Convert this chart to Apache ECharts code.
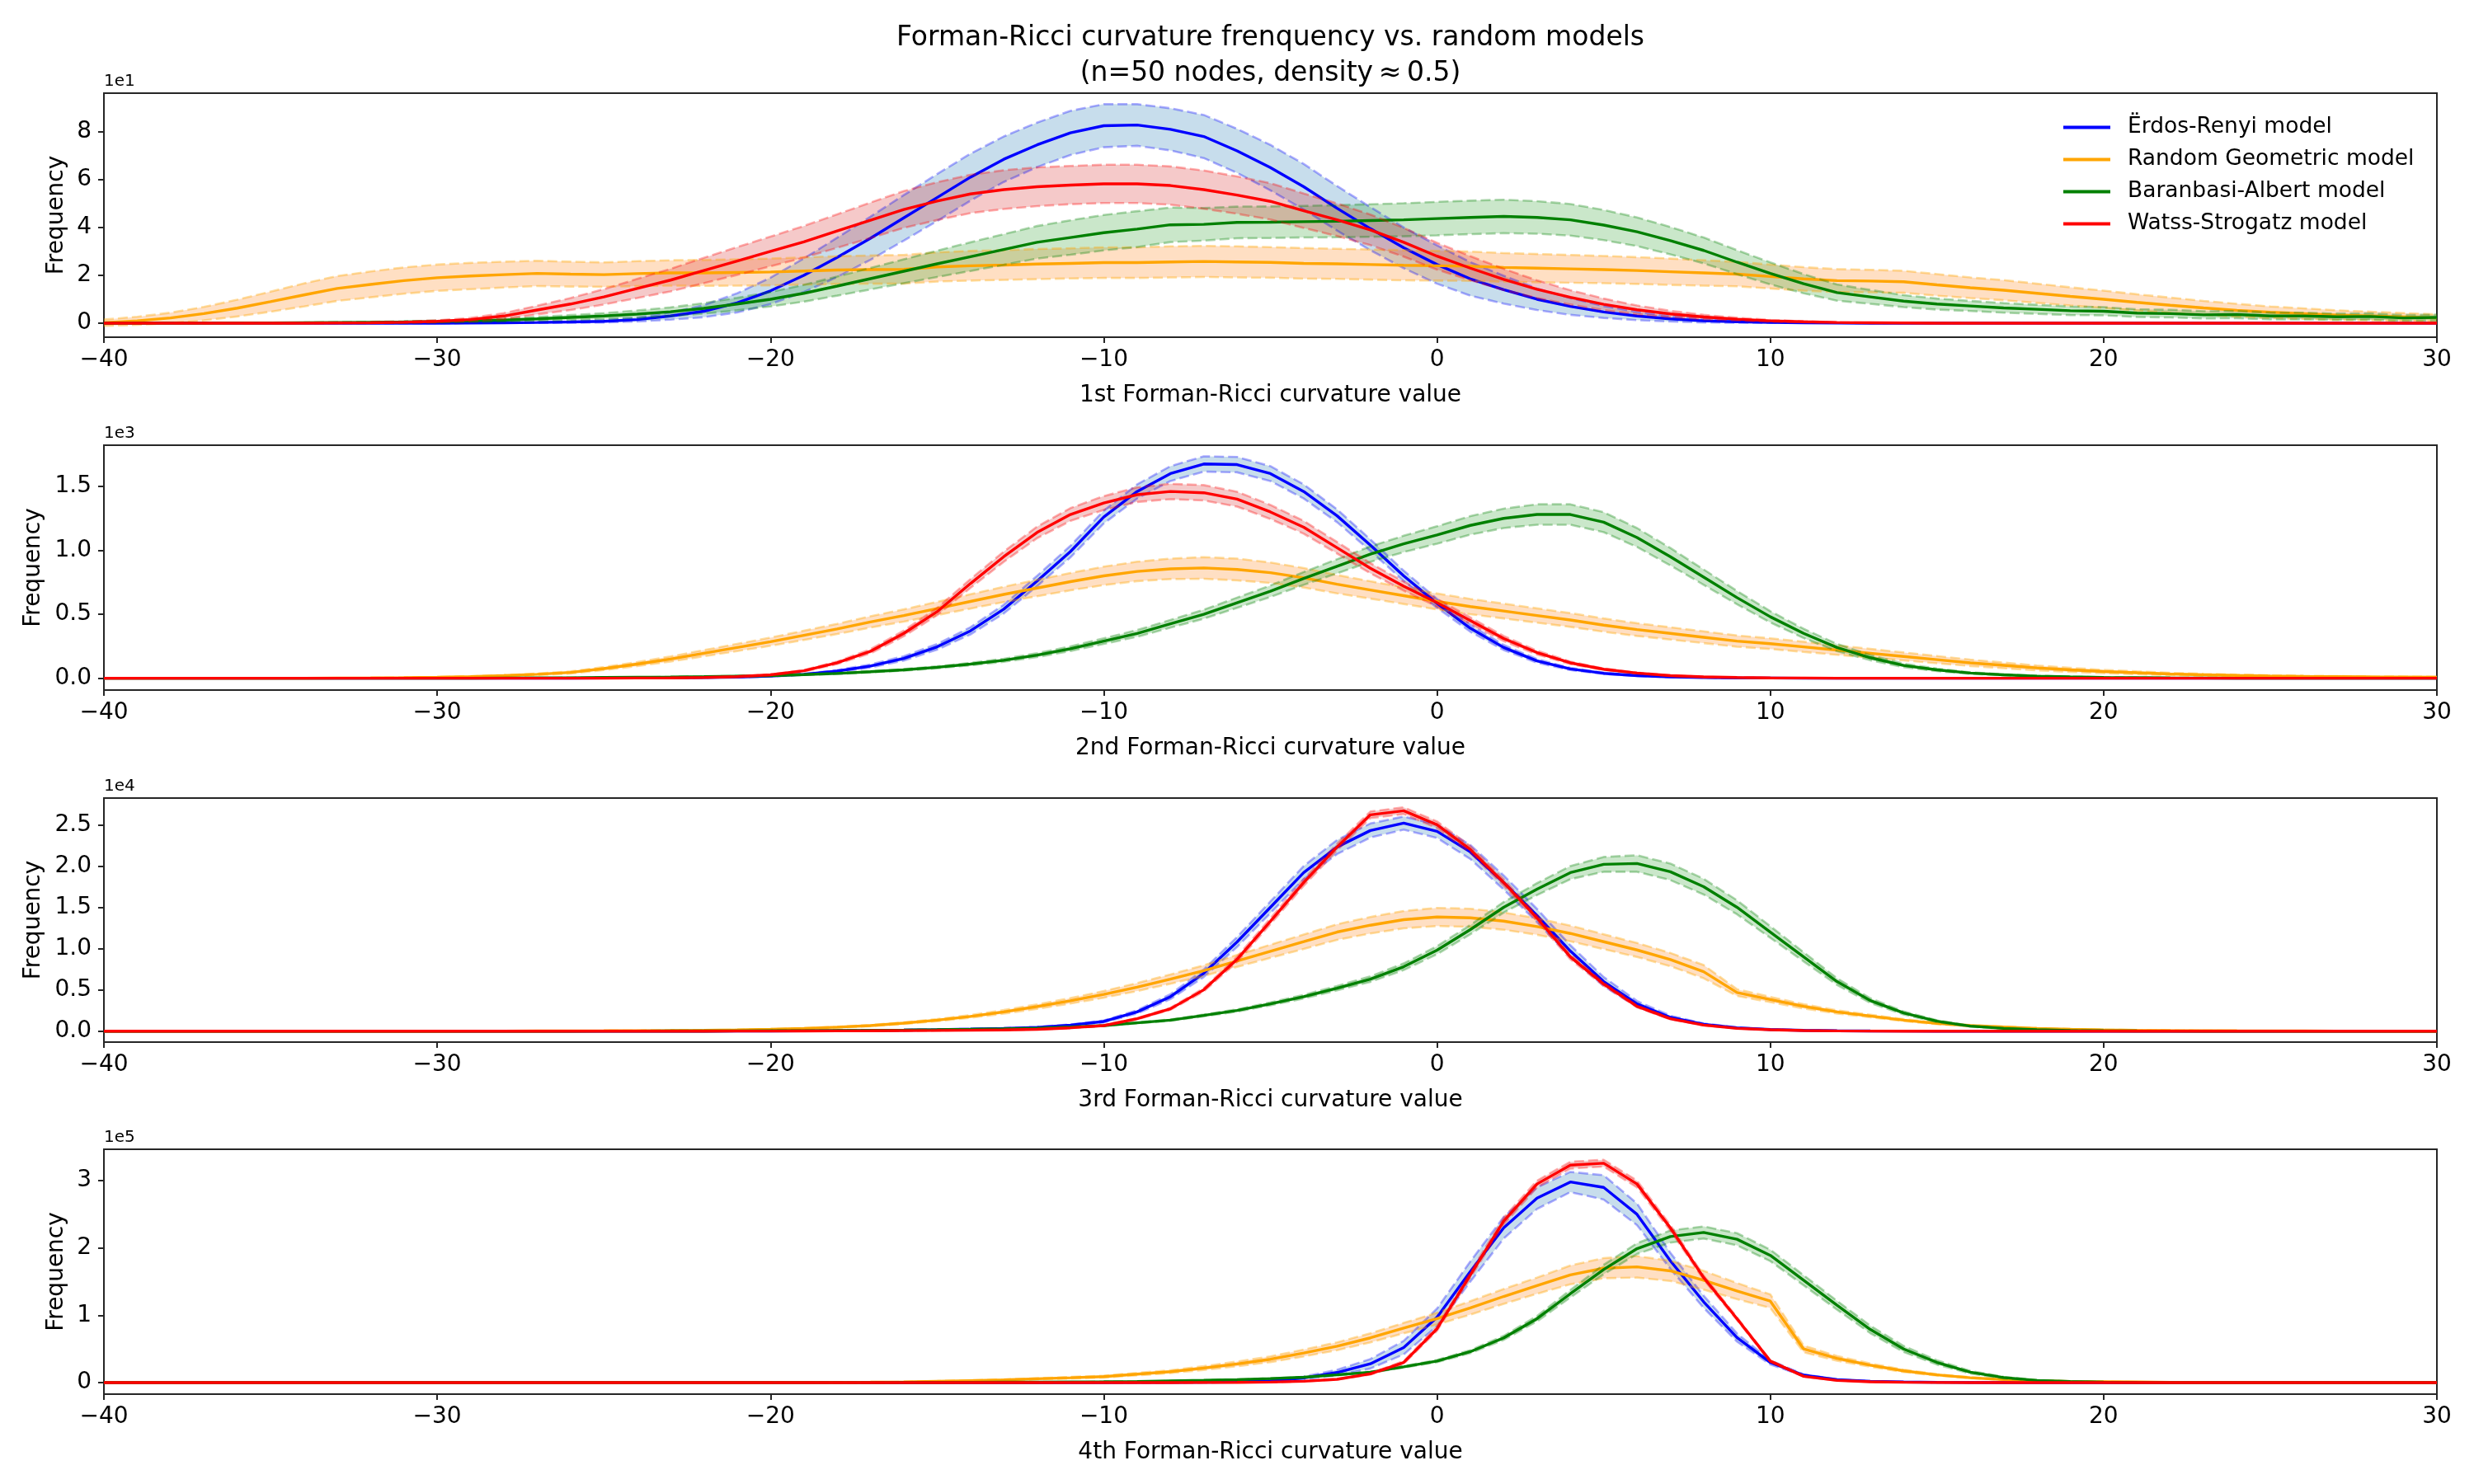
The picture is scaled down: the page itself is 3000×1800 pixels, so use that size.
<!DOCTYPE html>
<html>
<head>
<meta charset="utf-8">
<script src="https://cdn.jsdelivr.net/npm/echarts@6/dist/echarts.min.js"></script>
<style>html,body{margin:0;padding:0;background:#fff}#chart{width:3000px;height:1800px}</style>
</head>
<body>
<div id="chart"></div>
<script>
// ---------------- DATA ----------------
const curvature = [-40,-39,-38,-37,-36,-35,-34,-33,-32,-31,-30,-29,-28,-27,-26,-25,-24,-23,-22,-21,-20,-19,-18,-17,-16,-15,-14,-13,-12,-11,-10,-9,-8,-7,-6,-5,-4,-3,-2,-1,0,1,2,3,4,5,6,7,8,9,10,11,12,13,14,15,16,17,18,19,20,21,22,23,24,25,26,27,28,29,30];
const modelNames = ['Ërdos-Renyi model','Random Geometric model','Baranbasi-Albert model','Watss-Strogatz model'];
const xAxisTitles = ['1st Forman-Ricci curvature value','2nd Forman-Ricci curvature value','3rd Forman-Ricci curvature value','4th Forman-Ricci curvature value'];
const yAxisTitle = 'Frequency';
const offsetLabels = ['1e1','1e3','1e4','1e5'];
const yTicks1 = [0,2,4,6,8];
const yTicks2 = [0,0.5,1.0,1.5];
const yTicks3 = [0,0.5,1.0,1.5,2.0,2.5];
const yTicks4 = [0,1,2,3];
const titleLines = ['Forman-Ricci curvature frenquency vs. random models','(n=50 nodes, density\u2009\u2248\u20090.5)'];

// Panel 1 (values in units of 1e1)
const p1ErMean = [0,0,0,0,0,0,0,0,0,0, 0,0.01,0.02,0.03,0.05,0.08,0.15,0.3,0.5,0.85, 1.35,2.0,2.75,3.55,4.4,5.25,6.1,6.85,7.45,7.95, 8.25,8.28,8.1,7.8,7.2,6.5,5.7,4.8,3.95,3.15, 2.45,1.85,1.4,1.0,0.7,0.47,0.3,0.18,0.1,0.06, 0.03,0.02,0.01,0,0,0,0,0,0,0, 0,0,0,0,0,0,0,0,0,0, 0];
const p1ErStd  = [0,0,0,0,0,0,0,0,0,0, 0,0,0,0.02,0.03,0.05,0.08,0.15,0.25,0.4, 0.55,0.7,0.82,0.9,0.95,0.98,0.98,0.95,0.93,0.92, 0.9,0.87,0.88,0.9,0.92,0.95,0.95,0.93,0.9,0.85, 0.8,0.7,0.58,0.45,0.35,0.25,0.17,0.11,0.07,0.04, 0.02,0.01,0,0,0,0,0,0,0,0, 0,0,0,0,0,0,0,0,0,0, 0];
const p1RgMean = [0.02,0.1,0.22,0.4,0.63,0.9,1.18,1.45,1.62,1.78, 1.9,1.97,2.03,2.08,2.05,2.03,2.07,2.1,2.1,2.12, 2.14,2.18,2.22,2.24,2.25,2.35,2.4,2.43,2.47,2.5, 2.53,2.53,2.56,2.58,2.56,2.54,2.5,2.48,2.45,2.42, 2.4,2.38,2.33,2.3,2.27,2.24,2.2,2.15,2.1,2.05, 1.95,1.85,1.78,1.76,1.73,1.6,1.48,1.38,1.25,1.12, 1.0,0.87,0.75,0.64,0.54,0.46,0.4,0.34,0.3,0.26, 0.22];
const p1RgStd  = [0.13,0.17,0.22,0.28,0.35,0.42,0.48,0.52,0.54,0.55, 0.55,0.55,0.54,0.53,0.52,0.51,0.52,0.53,0.54,0.55, 0.56,0.57,0.58,0.59,0.6,0.61,0.62,0.62,0.63,0.63, 0.64,0.64,0.65,0.65,0.65,0.64,0.64,0.63,0.63,0.63, 0.62,0.61,0.6,0.59,0.58,0.57,0.56,0.55,0.53,0.51, 0.5,0.49,0.48,0.47,0.46,0.45,0.43,0.42,0.4,0.38, 0.36,0.34,0.32,0.29,0.27,0.24,0.22,0.2,0.18,0.16, 0.15];
const p1BaMean = [0,0,0,0,0.01,0.01,0.02,0.03,0.04,0.05, 0.07,0.1,0.13,0.18,0.24,0.3,0.38,0.48,0.62,0.8, 1.0,1.25,1.55,1.86,2.17,2.48,2.78,3.08,3.38,3.58, 3.78,3.93,4.11,4.13,4.21,4.22,4.24,4.26,4.29,4.32, 4.37,4.42,4.46,4.42,4.32,4.1,3.82,3.45,3.04,2.55, 2.08,1.65,1.28,1.1,0.92,0.8,0.72,0.64,0.58,0.52, 0.5,0.42,0.4,0.35,0.36,0.3,0.3,0.27,0.28,0.22, 0.24];
const p1BaStd  = [0,0,0,0,0,0.01,0.01,0.02,0.02,0.03, 0.04,0.05,0.06,0.08,0.1,0.12,0.15,0.18,0.22,0.26, 0.3,0.35,0.4,0.45,0.5,0.55,0.6,0.64,0.68,0.72, 0.74,0.75,0.72,0.68,0.66,0.66,0.66,0.67,0.68,0.69, 0.7,0.7,0.7,0.68,0.66,0.63,0.6,0.57,0.54,0.5, 0.46,0.4,0.34,0.29,0.25,0.23,0.21,0.2,0.19,0.18, 0.17,0.16,0.16,0.15,0.15,0.14,0.14,0.13,0.13,0.12, 0.12];
const p1WsMean = [0,0,0,0,0,0,0,0.01,0.02,0.04, 0.08,0.15,0.3,0.55,0.8,1.1,1.45,1.8,2.2,2.6, 3.0,3.4,3.85,4.3,4.75,5.1,5.4,5.58,5.7,5.77, 5.82,5.82,5.75,5.58,5.35,5.09,4.7,4.32,3.9,3.38, 2.8,2.3,1.83,1.42,1.08,0.79,0.56,0.39,0.26,0.17, 0.1,0.06,0.03,0.02,0.01,0,0,0,0,0, 0,0,0,0,0,0,0,0,0,0, 0];
const p1WsStd  = [0,0,0,0,0,0,0,0,0.01,0.02, 0.04,0.07,0.12,0.18,0.25,0.32,0.4,0.47,0.53,0.58, 0.62,0.66,0.7,0.74,0.77,0.79,0.8,0.81,0.81,0.8, 0.8,0.8,0.8,0.8,0.78,0.76,0.72,0.68,0.64,0.6, 0.56,0.5,0.44,0.37,0.3,0.24,0.18,0.13,0.09,0.06, 0.04,0.02,0.01,0,0,0,0,0,0,0, 0,0,0,0,0,0,0,0,0,0, 0];

// Panel 2 (values in units of 1e3)
const p2ErMean = [0,0,0,0,0,0,0,0,0,0, 0,0,0,0,0,0.001,0.002,0.003,0.005,0.009, 0.016,0.03,0.055,0.095,0.155,0.245,0.37,0.54,0.76,0.99, 1.26,1.46,1.6,1.675,1.67,1.6,1.46,1.27,1.04,0.8, 0.585,0.39,0.24,0.135,0.072,0.038,0.02,0.01,0.005,0.002, 0.001,0,0,0,0,0,0,0,0,0, 0,0,0,0,0,0,0,0,0,0, 0];
const p2ErStd  = [0,0,0,0,0,0,0,0,0,0, 0,0,0,0,0,0,0,0.001,0.001,0.002, 0.003,0.005,0.008,0.012,0.017,0.022,0.028,0.034,0.04,0.045, 0.05,0.055,0.058,0.06,0.06,0.058,0.055,0.05,0.045,0.04, 0.034,0.027,0.02,0.014,0.009,0.005,0.003,0.002,0.001,0, 0,0,0,0,0,0,0,0,0,0, 0,0,0,0,0,0,0,0,0,0, 0];
const p2RgMean = [0,0,0,0,0,0,0,0.001,0.002,0.004, 0.007,0.012,0.02,0.03,0.045,0.075,0.11,0.15,0.195,0.24, 0.285,0.335,0.385,0.44,0.49,0.545,0.6,0.655,0.705,0.755, 0.8,0.835,0.855,0.862,0.85,0.825,0.785,0.735,0.69,0.645, 0.6,0.56,0.525,0.49,0.455,0.415,0.38,0.35,0.32,0.29, 0.27,0.245,0.22,0.195,0.17,0.145,0.12,0.1,0.08,0.065, 0.052,0.042,0.033,0.026,0.021,0.017,0.014,0.012,0.01,0.009, 0.008];
const p2RgStd  = [0,0,0,0,0,0,0,0,0,0.001, 0.002,0.003,0.004,0.006,0.008,0.012,0.016,0.02,0.024,0.028, 0.032,0.036,0.04,0.044,0.048,0.052,0.056,0.06,0.064,0.068, 0.072,0.076,0.08,0.085,0.085,0.08,0.076,0.072,0.068,0.065, 0.062,0.06,0.058,0.056,0.054,0.052,0.05,0.048,0.046,0.044, 0.042,0.04,0.037,0.034,0.031,0.028,0.025,0.022,0.019,0.016, 0.013,0.011,0.009,0.008,0.007,0.006,0.005,0.004,0.004,0.003, 0.003];
const p2BaMean = [0,0,0,0,0,0,0,0,0,0, 0,0,0.001,0.002,0.003,0.005,0.007,0.009,0.012,0.016, 0.02,0.028,0.037,0.05,0.065,0.085,0.11,0.14,0.18,0.23, 0.29,0.35,0.425,0.5,0.59,0.68,0.78,0.875,0.97,1.05, 1.12,1.195,1.25,1.28,1.28,1.22,1.1,0.95,0.79,0.63, 0.48,0.35,0.24,0.16,0.1,0.065,0.04,0.026,0.016,0.01, 0.006,0.004,0.002,0.001,0,0,0,0,0,0, 0];
const p2BaStd  = [0,0,0,0,0,0,0,0,0,0, 0,0,0,0,0,0,0.001,0.001,0.001,0.002, 0.002,0.003,0.004,0.005,0.006,0.008,0.01,0.012,0.015,0.018, 0.022,0.026,0.03,0.035,0.04,0.045,0.05,0.055,0.06,0.064, 0.068,0.072,0.076,0.08,0.08,0.078,0.074,0.068,0.06,0.052, 0.044,0.036,0.028,0.02,0.014,0.01,0.006,0.004,0.003,0.002, 0.001,0,0,0,0,0,0,0,0,0, 0];
const p2WsMean = [0,0,0,0,0,0,0,0,0,0, 0,0,0,0,0,0,0.001,0.002,0.005,0.012, 0.026,0.058,0.12,0.21,0.35,0.52,0.74,0.95,1.14,1.28, 1.37,1.435,1.46,1.45,1.4,1.3,1.18,1.02,0.86,0.72, 0.59,0.45,0.31,0.2,0.12,0.07,0.04,0.02,0.01,0.005, 0.002,0.001,0,0,0,0,0,0,0,0, 0,0,0,0,0,0,0,0,0,0, 0];
const p2WsStd  = [0,0,0,0,0,0,0,0,0,0, 0,0,0,0,0,0,0,0.001,0.001,0.002, 0.003,0.006,0.01,0.016,0.022,0.028,0.034,0.04,0.045,0.05, 0.054,0.057,0.06,0.06,0.058,0.055,0.05,0.045,0.04,0.035, 0.03,0.025,0.02,0.015,0.01,0.006,0.004,0.002,0.001,0, 0,0,0,0,0,0,0,0,0,0, 0,0,0,0,0,0,0,0,0,0, 0];

// Panel 3 (values in units of 1e4)
const p3ErMean = [0,0,0,0,0,0,0,0,0,0, 0,0,0,0,0,0,0,0,0,0.001, 0.002,0.003,0.005,0.008,0.012,0.017,0.024,0.032,0.045,0.073, 0.117,0.233,0.417,0.7,1.08,1.5,1.92,2.23,2.43,2.52, 2.42,2.17,1.8,1.4,0.97,0.6,0.33,0.167,0.083,0.04, 0.02,0.009,0.004,0.002,0.001,0,0,0,0,0, 0,0,0,0,0,0,0,0,0,0, 0];
const p3ErStd  = [0,0,0,0,0,0,0,0,0,0, 0,0,0,0,0,0,0,0,0,0, 0,0,0,0.001,0.002,0.003,0.004,0.005,0.006,0.008, 0.012,0.02,0.03,0.045,0.06,0.07,0.08,0.085,0.085,0.08, 0.08,0.085,0.085,0.08,0.07,0.055,0.035,0.02,0.01,0.005, 0.003,0.002,0.001,0,0,0,0,0,0,0, 0,0,0,0,0,0,0,0,0,0, 0];
const p3RgMean = [0,0,0,0,0,0,0,0,0,0, 0,0.001,0.001,0.002,0.003,0.004,0.006,0.008,0.011,0.015, 0.022,0.033,0.048,0.067,0.097,0.133,0.178,0.233,0.297,0.367, 0.445,0.533,0.63,0.733,0.85,0.967,1.083,1.2,1.283,1.35, 1.383,1.373,1.333,1.267,1.183,1.083,0.983,0.867,0.72,0.467, 0.383,0.3,0.233,0.183,0.133,0.093,0.067,0.05,0.033,0.023, 0.016,0.011,0.008,0.006,0.004,0.003,0.002,0.001,0.001,0, 0];
const p3RgStd  = [0,0,0,0,0,0,0,0,0,0, 0,0,0,0,0,0.001,0.001,0.001,0.002,0.002, 0.003,0.004,0.005,0.007,0.01,0.013,0.017,0.022,0.027,0.033, 0.04,0.048,0.056,0.064,0.072,0.08,0.088,0.095,0.1,0.105, 0.11,0.11,0.105,0.1,0.095,0.09,0.085,0.08,0.08,0.04, 0.032,0.026,0.02,0.016,0.012,0.009,0.007,0.005,0.004,0.003, 0.002,0.002,0.001,0.001,0,0,0,0,0,0, 0];
const p3BaMean = [0,0,0,0,0,0,0,0,0,0, 0,0,0,0,0,0.001,0.001,0.002,0.002,0.003, 0.005,0.006,0.008,0.01,0.013,0.017,0.022,0.028,0.036,0.05, 0.067,0.1,0.133,0.19,0.25,0.33,0.417,0.52,0.63,0.78, 0.98,1.23,1.5,1.72,1.92,2.02,2.03,1.93,1.75,1.5, 1.2,0.9,0.6,0.37,0.22,0.12,0.06,0.033,0.017,0.008, 0.004,0.002,0.001,0,0,0,0,0,0,0, 0];
const p3BaStd  = [0,0,0,0,0,0,0,0,0,0, 0,0,0,0,0,0,0,0,0,0, 0,0,0,0,0.001,0.001,0.001,0.002,0.002,0.003, 0.004,0.006,0.008,0.011,0.014,0.018,0.022,0.027,0.033,0.04, 0.048,0.056,0.064,0.072,0.08,0.09,0.1,0.1,0.095,0.085, 0.07,0.055,0.04,0.028,0.018,0.011,0.006,0.003,0.002,0.001, 0,0,0,0,0,0,0,0,0,0, 0];
const p3WsMean = [0,0,0,0,0,0,0,0,0,0, 0,0,0,0,0,0,0,0,0,0.001, 0.001,0.002,0.003,0.004,0.006,0.008,0.011,0.015,0.022,0.04, 0.067,0.15,0.27,0.5,0.87,1.33,1.8,2.23,2.62,2.67, 2.5,2.2,1.8,1.37,0.9,0.57,0.3,0.15,0.073,0.033, 0.017,0.007,0.003,0.001,0,0,0,0,0,0, 0,0,0,0,0,0,0,0,0,0, 0];
const p3WsStd  = [0,0,0,0,0,0,0,0,0,0, 0,0,0,0,0,0,0,0,0,0, 0,0,0,0,0,0.001,0.001,0.001,0.002,0.003, 0.005,0.008,0.012,0.02,0.03,0.035,0.04,0.04,0.04,0.04, 0.04,0.04,0.04,0.035,0.03,0.02,0.012,0.007,0.004,0.002, 0.001,0,0,0,0,0,0,0,0,0, 0,0,0,0,0,0,0,0,0,0, 0];

// Panel 4 (values in units of 1e5)
const p4ErMean = [0,0,0,0,0,0,0,0,0,0, 0,0,0,0,0,0,0,0,0,0, 0,0,0,0,0,0,0,0,0,0, 0.001,0.002,0.003,0.005,0.01,0.025,0.07,0.15,0.28,0.52, 0.97,1.65,2.3,2.74,2.98,2.9,2.5,1.81,1.2,0.67, 0.3,0.11,0.045,0.02,0.01,0.005,0.002,0.001,0,0, 0,0,0,0,0,0,0,0,0,0, 0];
const p4ErStd  = [0,0,0,0,0,0,0,0,0,0, 0,0,0,0,0,0,0,0,0,0, 0,0,0,0,0,0,0,0,0,0, 0,0,0,0.001,0.003,0.008,0.02,0.04,0.07,0.1, 0.13,0.15,0.16,0.16,0.15,0.18,0.16,0.12,0.09,0.06, 0.03,0.012,0.005,0.002,0.001,0,0,0,0,0, 0,0,0,0,0,0,0,0,0,0, 0];
const p4RgMean = [0,0,0,0,0,0,0,0,0,0, 0,0,0,0,0,0,0,0,0.001,0.001, 0.002,0.003,0.004,0.006,0.01,0.02,0.03,0.04,0.057,0.073, 0.09,0.126,0.163,0.216,0.278,0.347,0.44,0.54,0.665,0.81, 0.95,1.11,1.28,1.44,1.6,1.7,1.72,1.66,1.52,1.36, 1.21,0.5,0.36,0.26,0.175,0.115,0.073,0.045,0.029,0.017, 0.013,0.009,0.005,0.003,0.002,0.001,0,0,0,0, 0];
const p4RgStd  = [0,0,0,0,0,0,0,0,0,0, 0,0,0,0,0,0,0,0,0,0, 0,0,0.001,0.001,0.002,0.003,0.005,0.007,0.009,0.011, 0.014,0.018,0.022,0.028,0.035,0.042,0.05,0.058,0.067,0.077, 0.087,0.1,0.11,0.12,0.14,0.15,0.16,0.15,0.14,0.12, 0.1,0.05,0.035,0.025,0.017,0.011,0.007,0.005,0.003,0.002, 0.001,0.001,0,0,0,0,0,0,0,0, 0];
const p4BaMean = [0,0,0,0,0,0,0,0,0,0, 0,0,0,0,0,0,0,0,0,0.001, 0.001,0.001,0.002,0.002,0.003,0.004,0.005,0.006,0.007,0.009, 0.012,0.016,0.025,0.034,0.045,0.06,0.08,0.115,0.155,0.235, 0.32,0.46,0.665,0.95,1.32,1.68,1.99,2.17,2.23,2.13, 1.89,1.52,1.15,0.79,0.5,0.3,0.155,0.075,0.033,0.017, 0.008,0.004,0.002,0.001,0,0,0,0,0,0, 0];
const p4BaStd  = [0,0,0,0,0,0,0,0,0,0, 0,0,0,0,0,0,0,0,0,0, 0,0,0,0,0,0,0,0,0,0, 0,0,0.001,0.001,0.002,0.003,0.004,0.006,0.008,0.012, 0.016,0.022,0.03,0.04,0.055,0.07,0.08,0.09,0.09,0.09, 0.085,0.075,0.065,0.055,0.045,0.032,0.02,0.012,0.006,0.003, 0.001,0,0,0,0,0,0,0,0,0, 0];
const p4WsMean = [0,0,0,0,0,0,0,0,0,0, 0,0,0,0,0,0,0,0,0,0, 0,0,0,0,0,0,0,0,0,0, 0,0,0.001,0.002,0.004,0.008,0.02,0.05,0.13,0.3, 0.8,1.6,2.4,2.95,3.23,3.26,2.95,2.3,1.56,0.95, 0.32,0.094,0.033,0.013,0.005,0.002,0.001,0,0,0, 0,0,0,0,0,0,0,0,0,0, 0];
const p4WsStd  = [0,0,0,0,0,0,0,0,0,0, 0,0,0,0,0,0,0,0,0,0, 0,0,0,0,0,0,0,0,0,0, 0,0,0,0,0,0.001,0.002,0.005,0.01,0.02, 0.03,0.04,0.05,0.05,0.05,0.05,0.05,0.04,0.03,0.02, 0.01,0.005,0.002,0.001,0,0,0,0,0,0, 0,0,0,0,0,0,0,0,0,0, 0];

// ---------------- LAYOUT / STYLE ----------------
const panelData = [
  {mean:[p1ErMean,p1RgMean,p1BaMean,p1WsMean], std:[p1ErStd,p1RgStd,p1BaStd,p1WsStd], ticks:yTicks1, dec:0},
  {mean:[p2ErMean,p2RgMean,p2BaMean,p2WsMean], std:[p2ErStd,p2RgStd,p2BaStd,p2WsStd], ticks:yTicks2, dec:1},
  {mean:[p3ErMean,p3RgMean,p3BaMean,p3WsMean], std:[p3ErStd,p3RgStd,p3BaStd,p3WsStd], ticks:yTicks3, dec:1},
  {mean:[p4ErMean,p4RgMean,p4BaMean,p4WsMean], std:[p4ErStd,p4RgStd,p4BaStd,p4WsStd], ticks:yTicks4, dec:0}
];
const layout = [
  {top:113, height:296, ymin:-0.585, ymax:9.61, nameGap:43},
  {top:540, height:297, ymin:-0.093, ymax:1.822, nameGap:71},
  {top:968, height:296, ymin:-0.133, ymax:2.823, nameGap:71},
  {top:1394, height:297, ymin:-0.171, ymax:3.466, nameGap:43}
];
const LEFT = 126, WIDTH = 2829;
const lineColors = ['#0000ff','#ffa500','#008000','#ff0000'];
const fillColors = ['rgba(31,119,180,0.25)','rgba(255,127,14,0.25)','rgba(44,160,44,0.25)','rgba(214,39,40,0.25)'];
const dashColors = ['rgba(0,0,255,0.32)','rgba(255,165,0,0.38)','rgba(0,128,0,0.32)','rgba(255,0,0,0.32)'];
const FONT = 'DejaVu Sans';
const SPINE = '#262626';

const grids = [], xAxes = [], yAxes = [], series = [], graphics = [];
const minus = v => v < 0 ? '\u2212' + (-v) : String(v);

layout.forEach((L, pi) => {
  grids.push({left: LEFT, width: WIDTH, top: L.top, height: L.height, show: true,
    borderColor: SPINE, borderWidth: 2, backgroundColor: 'rgba(0,0,0,0)', containLabel: false, outerBoundsMode: 'none'});
  xAxes.push({gridIndex: pi, type: 'value', min: -40, max: 30, interval: 10,
    axisLine: {show: false, onZero: false}, splitLine: {show: false},
    axisTick: {show: true, inside: false, length: 7, lineStyle: {color: SPINE, width: 2}},
    axisLabel: {show: true, margin: 14, fontSize: 28, color: '#000', fontFamily: FONT, formatter: minus, showMinLabel: true, showMaxLabel: true},
    name: xAxisTitles[pi], nameLocation: 'middle', nameGap: 57,
    nameTextStyle: {fontSize: 28, color: '#000', fontFamily: FONT}});
  const P = panelData[pi];
  yAxes.push({gridIndex: pi, type: 'value', min: L.ymin, max: L.ymax,
    axisLine: {show: false, onZero: false}, splitLine: {show: false},
    axisTick: {show: true, inside: false, length: 7, lineStyle: {color: SPINE, width: 2}, customValues: P.ticks},
    axisLabel: {show: true, margin: 15, fontSize: 28, color: '#000', fontFamily: FONT, customValues: P.ticks,
      formatter: v => Number(v).toFixed(P.dec)},
    name: yAxisTitle, nameLocation: 'middle', nameGap: L.nameGap,
    nameTextStyle: {fontSize: 28, color: '#000', fontFamily: FONT}});
  graphics.push({type: 'text', x: LEFT, y: L.top - 4, silent: true,
    style: {text: offsetLabels[pi], font: '20px "DejaVu Sans"', fill: '#000', align: 'left', verticalAlign: 'bottom', textAlign: 'left', textVerticalAlign: 'bottom'}});

  modelNames.forEach((name, mi) => {
    const m = P.mean[mi], s = P.std[mi];
    const lower = curvature.map((x, i) => [x, m[i] - s[i]]);
    const upper = curvature.map((x, i) => [x, m[i] + s[i]]);
    const dashStyle = {color: dashColors[mi], width: 2.6, type: [12, 5]};
    // shaded band (polygon through the axis scales)
    series.push({type: 'custom', name: name + ' band ' + pi, xAxisIndex: pi, yAxisIndex: pi, silent: true, clip: true,
      coordinateSystem: 'cartesian2d', data: [[curvature[0], m[0]]],
      renderItem: (params, api) => {
        const pts = upper.map(p => api.coord(p)).concat(lower.slice().reverse().map(p => api.coord(p)));
        return {type: 'polygon', shape: {points: pts}, style: {fill: fillColors[mi], stroke: null}};
      }});
    series.push({type: 'line', name: name + ' lower ' + pi, xAxisIndex: pi, yAxisIndex: pi,
      symbol: 'none', silent: true, lineStyle: dashStyle, emphasis: {disabled: true}, data: lower});
    series.push({type: 'line', name: name + ' upper ' + pi, xAxisIndex: pi, yAxisIndex: pi,
      symbol: 'none', silent: true, lineStyle: dashStyle, emphasis: {disabled: true}, data: upper});
    series.push({type: 'line', name: name, xAxisIndex: pi, yAxisIndex: pi, symbol: 'none', silent: true,
      lineStyle: {color: lineColors[mi], width: 3.4}, itemStyle: {color: lineColors[mi]},
      emphasis: {disabled: true}, data: curvature.map((x, i) => [x, m[i]])});
  });
});

graphics.push({type: 'text', x: LEFT + WIDTH / 2, y: 46, silent: true,
  style: {text: titleLines[0], font: '33px "DejaVu Sans"', fill: '#000', align: 'center', verticalAlign: 'middle', textAlign: 'center', textVerticalAlign: 'middle'}});
graphics.push({type: 'text', x: LEFT + WIDTH / 2, y: 89, silent: true,
  style: {text: titleLines[1], font: '33px "DejaVu Sans"', fill: '#000', align: 'center', verticalAlign: 'middle', textAlign: 'center', textVerticalAlign: 'middle'}});

const chart = echarts.init(document.getElementById('chart'), null, {renderer: 'canvas', width: 3000, height: 1800});
chart.setOption({
  animation: false,
  backgroundColor: '#ffffff',
  textStyle: {fontFamily: FONT},
  grid: grids, xAxis: xAxes, yAxis: yAxes,
  legend: {data: modelNames.map((n, i) => ({name: n, icon: 'rect', itemStyle: {color: lineColors[i]}})),
    orient: 'vertical', left: 2502, top: 141, itemWidth: 57, itemHeight: 4, itemGap: 12,
    selectedMode: false, padding: 0,
    textStyle: {fontSize: 26.5, color: '#000', fontFamily: FONT, padding: [0, 0, 0, 16]}},
  graphic: graphics,
  series: series
});
</script>
</body>
</html>
